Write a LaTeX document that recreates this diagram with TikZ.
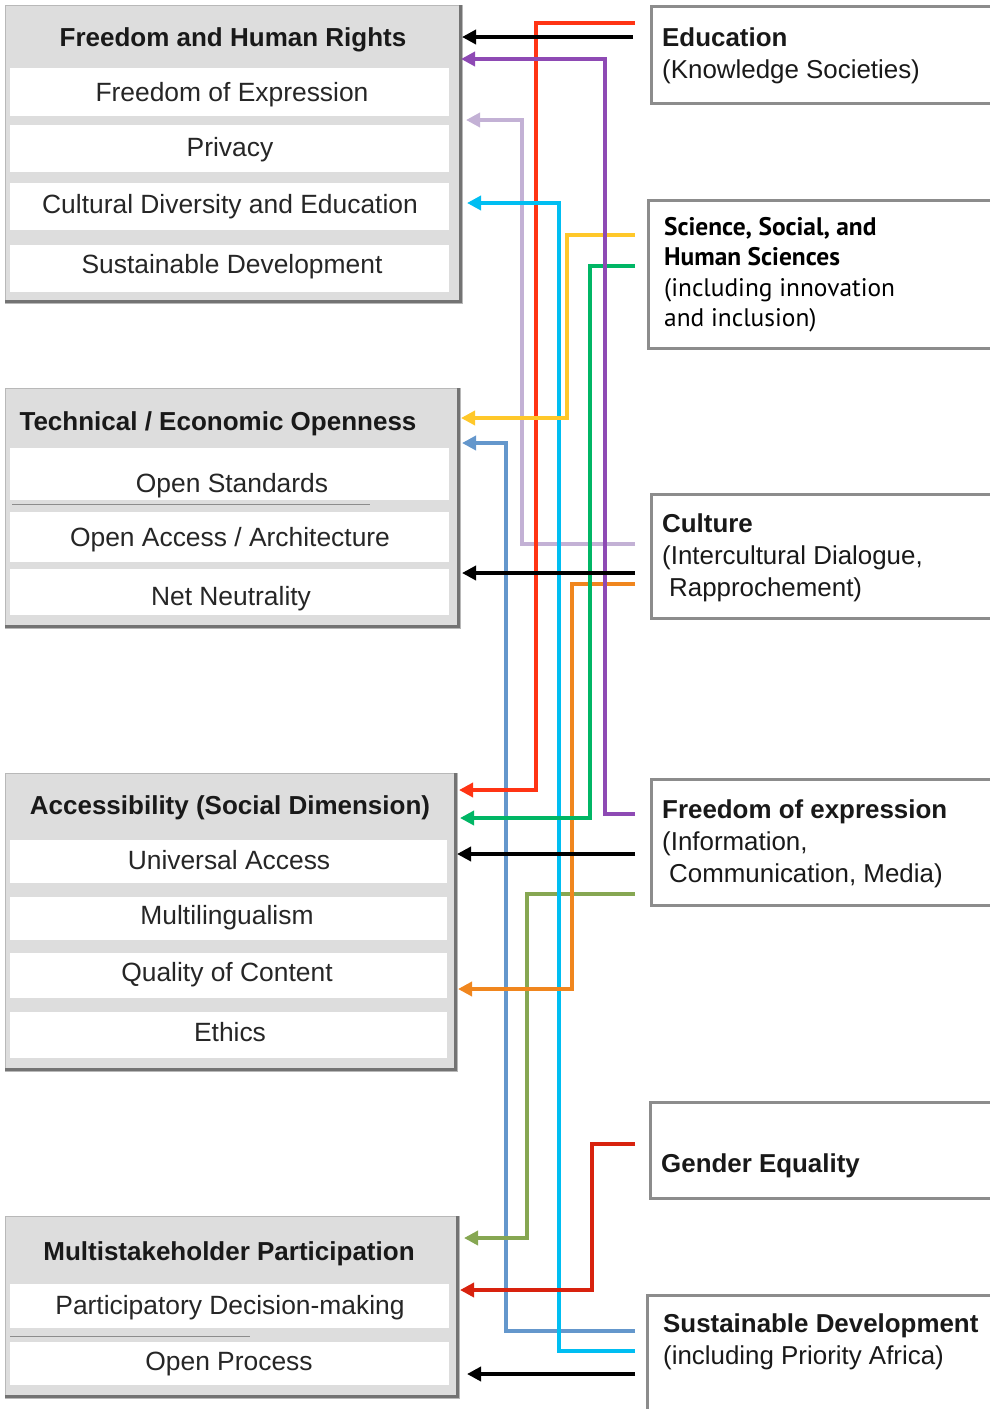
\documentclass[tikz,border=0pt]{standalone}
\usepackage{fontspec}
\setmainfont{Liberation Sans}
\newfontfamily\ptsans{PT Sans}
\usetikzlibrary{arrows.meta}
\definecolor{cRed}{HTML}{FF3414}
\definecolor{cPurple}{HTML}{8E4AB4}
\definecolor{cLilac}{HTML}{C3B1D5}
\definecolor{cCyan}{HTML}{00BEF2}
\definecolor{cYellow}{HTML}{FFC82A}
\definecolor{cGreen}{HTML}{00B665}
\definecolor{cOrange}{HTML}{F0861E}
\definecolor{cBlue}{HTML}{6497CC}
\definecolor{cOlive}{HTML}{86A752}
\definecolor{cDred}{HTML}{D8220E}
\definecolor{boxbg}{HTML}{DDDDDD}
\begin{document}
\begin{tikzpicture}[x=1pt,y=-1pt,
  ltitle/.style={font=\bfseries\fontsize{26}{30}\selectfont, text=black!90, anchor=base, inner sep=0pt},
  litem/.style={font=\fontsize{26.4}{30}\selectfont, text=black!85, anchor=base, inner sep=0pt},
  rtext/.style={font=\fontsize{25.9}{32}\selectfont, text=black!90, anchor=base west, inner sep=0pt, align=left},
  stext/.style={font=\ptsans\fontsize{25.4}{30.5}\selectfont, text=black, anchor=base west, inner sep=0pt, align=left},
  rframe/.style={draw=black!45, line width=2.5pt, fill=white, anchor=north west, inner sep=0pt},
  lframe/.style={fill=boxbg, draw=black!28, line width=1pt, anchor=north west, inner sep=0pt},
  conn/.style={line width=4pt, -{Triangle[length=14pt,width=14pt]}},
]
\useasboundingbox (0,0) rectangle (990,1409);

% ---------- left frames ----------
\node[lframe, minimum width=457pt, minimum height=298pt] (fhr) at (5,5) {};
\draw[black!55, line width=3pt] (460.5,5) -- (460.5,301.5) -- (5,301.5);
\foreach \a/\b in {68/116, 125/172, 183/230, 245/292}
  \fill[white] (10,\a) rectangle (449,\b);

\node[lframe, minimum width=455pt, minimum height=240pt] (teo) at (5,388) {};
\draw[black!55, line width=3pt] (458.5,388) -- (458.5,626.5) -- (5,626.5);
\foreach \a/\b in {448/500, 512/562, 569/615}
  \fill[white] (10,\a) rectangle (449,\b);
\draw[black!45, line width=0.8pt] (12,504) -- (370,504);

\node[lframe, minimum width=452pt, minimum height=298pt] (acc) at (5,773) {};
\draw[black!55, line width=3pt] (455.5,773) -- (455.5,1069.5) -- (5,1069.5);
\foreach \a/\b in {840/883, 897/940, 953/998, 1012/1058}
  \fill[white] (10,\a) rectangle (447,\b);

\node[lframe, minimum width=454pt, minimum height=182pt] (msp) at (5,1216) {};
\draw[black!55, line width=3pt] (457.5,1216) -- (457.5,1396.5) -- (5,1396.5);
\foreach \a/\b in {1284/1328, 1342/1385}
  \fill[white] (10,\a) rectangle (449,\b);
\draw[black!45, line width=0.8pt] (10,1336) -- (250,1336);

% ---------- left texts ----------
\node[ltitle] (fhrT) at (233,46) {Freedom and Human Rights};
\node[litem] (fhr1) at (232,101) {Freedom of Expression};
\node[litem] (fhr2) at (230,156) {Privacy};
\node[litem] (fhr3) at (230,213) {Cultural Diversity and Education};
\node[litem] (fhr4) at (232,273) {Sustainable Development};

\node[ltitle] (teoT) at (218,430) {Technical / Economic Openness};
\node[litem] (teo1) at (232,492) {Open Standards};
\node[litem] (teo2) at (230,546) {Open Access / Architecture};
\node[litem] (teo3) at (231,605) {Net Neutrality};

\node[ltitle] (accT) at (230,814) {Accessibility (Social Dimension)};
\node[litem] (acc1) at (229,869) {Universal Access};
\node[litem] (acc2) at (227,924) {Multilingualism};
\node[litem] (acc3) at (227,981) {Quality of Content};
\node[litem] (acc4) at (230,1041) {Ethics};

\node[ltitle] (mspT) at (229,1260) {Multistakeholder Participation};
\node[litem] (msp1) at (230,1314) {Participatory Decision-making};
\node[litem] (msp2) at (229,1370) {Open Process};

% ---------- right frames ----------
\node[rframe, minimum width=342pt, minimum height=97pt] (edu) at (650,5) {};
\node[rframe, minimum width=345pt, minimum height=148pt] (sci) at (647,199) {};
\node[rframe, minimum width=342pt, minimum height=124pt] (cul) at (650,493) {};
\node[rframe, minimum width=342pt, minimum height=126pt] (foe) at (650,778) {};
\node[rframe, minimum width=343pt, minimum height=96pt] (gen) at (649,1101) {};
\node[rframe, minimum width=346pt, minimum height=130pt] (sdv) at (646,1294) {};

% ---------- right texts (anchor = baseline of last line) ----------
\node[rtext] (eduT) at (662,78) {\textbf{Education}\\(Knowledge Societies)};
\node[stext] (sciT) at (664,326.5) {\textbf{Science, Social, and}\\\textbf{Human Sciences}\\(including innovation\\and inclusion)};
\node[rtext] (culT) at (662,596) {\textbf{Culture}\\(Intercultural Dialogue,\\\hspace*{7pt}Rapprochement)};
\node[rtext] (foeT) at (662,882) {\textbf{Freedom of expression}\\(Information,\\\hspace*{7pt}Communication, Media)};
\node[rtext] (genT) at (661,1172) {\textbf{Gender Equality}};
\node[rtext] (sdvT) at (663,1364) {\textbf{Sustainable Development}\\(including Priority Africa)};

% ---------- connector end points ----------
\coordinate (eduA) at (635,23);   \coordinate (eduB) at (633,37);
\coordinate (sciA) at (635,235);  \coordinate (sciB) at (635,266);
\coordinate (culA) at (635,544);  \coordinate (culB) at (635,573);  \coordinate (culC) at (635,584);
\coordinate (foeA) at (635,814);  \coordinate (foeB) at (635,854);  \coordinate (foeC) at (635,894);
\coordinate (genA) at (635,1144);
\coordinate (sdvA) at (635,1331); \coordinate (sdvB) at (635,1351); \coordinate (sdvC) at (635,1374);

\coordinate (fhrIn1) at (462,37);  \coordinate (fhrIn2) at (461,59);
\coordinate (fhrIn3) at (466,120); \coordinate (fhrIn4) at (467,203);
\coordinate (teoIn1) at (461,418); \coordinate (teoIn2) at (462,443);
\coordinate (teoIn3) at (462,573);
\coordinate (accIn1) at (459,790); \coordinate (accIn2) at (460,818);
\coordinate (accIn3) at (457,854); \coordinate (accIn4) at (458,989);
\coordinate (mspIn1) at (464,1238); \coordinate (mspIn2) at (460,1290);
\coordinate (mspIn3) at (467,1374);

% ---------- connectors ----------
\draw[conn, cBlue]   (sdvA) -| (506,600) |- (teoIn2);
\draw[conn, cLilac]  (culA) -| (522,300) |- (fhrIn3);
\draw[conn, cOlive]  (foeC) -| (527,1000) |- (mspIn1);
\draw[conn, cRed]    (eduA) -| (536,400) |- (accIn1);
\draw[conn, cCyan]   (sdvB) -| (559,700) |- (fhrIn4);
\draw[conn, cYellow] (sciA) -| (567,300) |- (teoIn1);
\draw[conn, cOrange] (culC) -| (572,700) |- (accIn4);
\draw[conn, cGreen]  (sciB) -| (590,500) |- (accIn2);
\draw[conn, cDred]   (genA) -| (592,1200) |- (mspIn2);
\draw[conn, cPurple] (foeA) -| (605,400) |- (fhrIn2);
\draw[conn, black]   (eduB) -- (fhrIn1);
\draw[conn, black]   (culB) -- (teoIn3);
\draw[conn, black]   (foeB) -- (accIn3);
\draw[conn, black]   (sdvC) -- (mspIn3);
\end{tikzpicture}
\end{document}
